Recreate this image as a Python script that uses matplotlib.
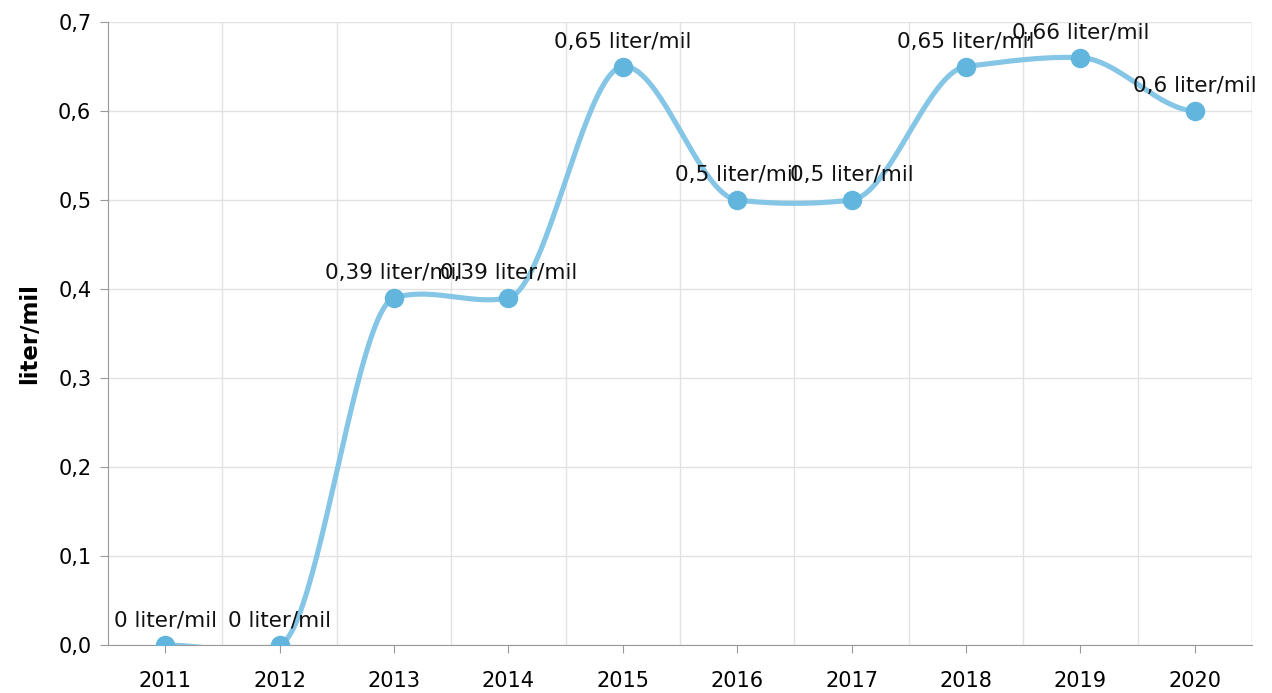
import matplotlib.pyplot as plt
import numpy as np

years = ['2011', '2012', '2013', '2014', '2015', '2016', '2017', '2018', '2019', '2020']
values = [0, 0, 0.39, 0.39, 0.65, 0.5, 0.5, 0.65, 0.66, 0.6]
labels = ['0 liter/mil', '0 liter/mil', '0,39 liter/mil', '0,39 liter/mil', '0,65 liter/mil',
          '0,5 liter/mil', '0,5 liter/mil', '0,65 liter/mil', '0,66 liter/mil', '0,6 liter/mil']
yticks = [0, 0.1, 0.2, 0.3, 0.4, 0.5, 0.6, 0.7]
ytick_labels = ['0,0', '0,1', '0,2', '0,3', '0,4', '0,5', '0,6', '0,7']


def smooth(x, y, f=0.1, n=50):
    # hermite curve through the points with small tangents (render only)
    x = np.asarray(x, float)
    y = np.asarray(y, float)
    py = np.concatenate([[y[0]], y, [y[-1]]])
    m = f * (py[2:] - py[:-2])
    xs, ys = [], []
    t = np.linspace(0, 1, n)
    h00 = 2 * t**3 - 3 * t**2 + 1
    h10 = t**3 - 2 * t**2 + t
    h01 = -2 * t**3 + 3 * t**2
    h11 = t**3 - t**2
    for i in range(len(x) - 1):
        xs.append(x[i] + t * (x[i + 1] - x[i]))
        ys.append(h00 * y[i] + h10 * m[i] + h01 * y[i + 1] + h11 * m[i + 1])
    return np.concatenate(xs), np.concatenate(ys)


fig = plt.figure(figsize=(12.72, 6.93), dpi=100)
ax = fig.add_axes([108 / 1272, 48 / 693, (1252 - 108) / 1272, (645 - 22) / 693])

x = np.arange(len(years))
sx, sy = smooth(x, values)
ax.plot(sx, sy, color='#85c5e5', lw=3.7, solid_capstyle='round', zorder=3)
ax.plot(x, values, 'o', color='#62b5dd', ms=13, zorder=4)

for xi, v, lab in zip(x, values, labels):
    ax.annotate(lab, (xi, v), xytext=(0, 10.5), textcoords='offset points',
                ha='center', va='bottom', fontsize=15.5, color='#111111', zorder=5,
                annotation_clip=False)

ax.set_xlim(-0.5, len(years) - 0.5)
ax.set_ylim(0, 0.7)
ax.set_xticks(x)
ax.set_xticklabels(years, fontsize=15)
ax.set_yticks(yticks)
ax.set_yticklabels(ytick_labels, fontsize=15)
ax.set_xticks(np.arange(0.5, len(years)), minor=True)

ax.grid(True, axis='y', color='#e2e2e2', lw=1)
ax.grid(True, axis='x', which='minor', color='#e2e2e2', lw=1)
ax.axvline(len(years) - 0.5, color='#e2e2e2', lw=1)

ax.tick_params(axis='x', which='major', length=6, color='#999999', pad=13)
ax.tick_params(axis='x', which='minor', length=0)
ax.tick_params(axis='y', length=6, color='#999999', pad=6)
for s in ['top', 'right']:
    ax.spines[s].set_visible(False)
for s in ['left', 'bottom']:
    ax.spines[s].set_color('#999999')

ax.set_ylabel('liter/mil', fontsize=16.5, fontweight='bold', labelpad=12)

fig.savefig('out.png', dpi=100)
